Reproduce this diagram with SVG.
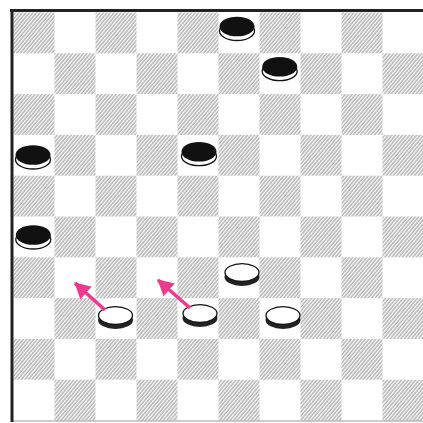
<svg xmlns="http://www.w3.org/2000/svg" width="423" height="423" viewBox="0 0 423 423">
<defs>
<pattern id="hatch" patternUnits="userSpaceOnUse" width="2.7" height="10" patternTransform="rotate(40)">
<line x1="1" y1="-1" x2="1" y2="11" stroke="#8f8f8f" stroke-width="1"/>
</pattern>
<marker id="ah" markerUnits="userSpaceOnUse" markerWidth="17" markerHeight="17" viewBox="0 0 16 16" refX="14" refY="8" orient="auto">
<path d="M0,0 L15,8 L0,16 Z" fill="#ec3a8e"/>
</marker>
</defs>
<style>
.dk{fill:url(#hatch)}
.btop{fill:#111}
.brim{fill:#fff;stroke:#111;stroke-width:1.3}
.wtop{fill:#fff;stroke:#111;stroke-width:1.3}
.wside{fill:#222}
.arrow{stroke:#ec3a8e;stroke-width:3.5;fill:none;marker-end:url(#ah)}
</style>
<rect width="423" height="423" fill="#fff"/>
<g id="board">
<g id="dark-squares">
<rect class="dk" x="13.5" y="12.5" width="41" height="40.8"/>
<rect class="dk" x="95.5" y="12.5" width="41" height="40.8"/>
<rect class="dk" x="177.5" y="12.5" width="41" height="40.8"/>
<rect class="dk" x="259.5" y="12.5" width="41" height="40.8"/>
<rect class="dk" x="341.5" y="12.5" width="41" height="40.8"/>
<rect class="dk" x="54.5" y="53.3" width="41" height="40.8"/>
<rect class="dk" x="136.5" y="53.3" width="41" height="40.8"/>
<rect class="dk" x="218.5" y="53.3" width="41" height="40.8"/>
<rect class="dk" x="300.5" y="53.3" width="41" height="40.8"/>
<rect class="dk" x="382.5" y="53.3" width="41" height="40.8"/>
<rect class="dk" x="13.5" y="94.1" width="41" height="40.8"/>
<rect class="dk" x="95.5" y="94.1" width="41" height="40.8"/>
<rect class="dk" x="177.5" y="94.1" width="41" height="40.8"/>
<rect class="dk" x="259.5" y="94.1" width="41" height="40.8"/>
<rect class="dk" x="341.5" y="94.1" width="41" height="40.8"/>
<rect class="dk" x="54.5" y="134.9" width="41" height="40.8"/>
<rect class="dk" x="136.5" y="134.9" width="41" height="40.8"/>
<rect class="dk" x="218.5" y="134.9" width="41" height="40.8"/>
<rect class="dk" x="300.5" y="134.9" width="41" height="40.8"/>
<rect class="dk" x="382.5" y="134.9" width="41" height="40.8"/>
<rect class="dk" x="13.5" y="175.7" width="41" height="40.8"/>
<rect class="dk" x="95.5" y="175.7" width="41" height="40.8"/>
<rect class="dk" x="177.5" y="175.7" width="41" height="40.8"/>
<rect class="dk" x="259.5" y="175.7" width="41" height="40.8"/>
<rect class="dk" x="341.5" y="175.7" width="41" height="40.8"/>
<rect class="dk" x="54.5" y="216.5" width="41" height="40.8"/>
<rect class="dk" x="136.5" y="216.5" width="41" height="40.8"/>
<rect class="dk" x="218.5" y="216.5" width="41" height="40.8"/>
<rect class="dk" x="300.5" y="216.5" width="41" height="40.8"/>
<rect class="dk" x="382.5" y="216.5" width="41" height="40.8"/>
<rect class="dk" x="13.5" y="257.3" width="41" height="40.8"/>
<rect class="dk" x="95.5" y="257.3" width="41" height="40.8"/>
<rect class="dk" x="177.5" y="257.3" width="41" height="40.8"/>
<rect class="dk" x="259.5" y="257.3" width="41" height="40.8"/>
<rect class="dk" x="341.5" y="257.3" width="41" height="40.8"/>
<rect class="dk" x="54.5" y="298.1" width="41" height="40.8"/>
<rect class="dk" x="136.5" y="298.1" width="41" height="40.8"/>
<rect class="dk" x="218.5" y="298.1" width="41" height="40.8"/>
<rect class="dk" x="300.5" y="298.1" width="41" height="40.8"/>
<rect class="dk" x="382.5" y="298.1" width="41" height="40.8"/>
<rect class="dk" x="13.5" y="338.9" width="41" height="40.8"/>
<rect class="dk" x="95.5" y="338.9" width="41" height="40.8"/>
<rect class="dk" x="177.5" y="338.9" width="41" height="40.8"/>
<rect class="dk" x="259.5" y="338.9" width="41" height="40.8"/>
<rect class="dk" x="341.5" y="338.9" width="41" height="40.8"/>
<rect class="dk" x="54.5" y="379.7" width="41" height="40.8"/>
<rect class="dk" x="136.5" y="379.7" width="41" height="40.8"/>
<rect class="dk" x="218.5" y="379.7" width="41" height="40.8"/>
<rect class="dk" x="300.5" y="379.7" width="41" height="40.8"/>
<rect class="dk" x="382.5" y="379.7" width="41" height="40.8"/>
</g>
<line x1="11" y1="421" x2="423" y2="421" stroke="#999" stroke-width="1"/>
<line x1="10" y1="10.5" x2="423" y2="10.5" stroke="#222" stroke-width="3"/>
<line x1="12" y1="9" x2="12" y2="422" stroke="#222" stroke-width="3"/>
</g>
<g id="b1"><ellipse class="brim" cx="237" cy="31" rx="17.5" ry="9.5"/><ellipse class="btop" cx="237" cy="26.5" rx="17.5" ry="9.8"/></g>
<g id="b2"><ellipse class="brim" cx="279.7" cy="71.2" rx="17.5" ry="9.5"/><ellipse class="btop" cx="279.7" cy="66.7" rx="17.5" ry="9.8"/></g>
<g id="b3"><ellipse class="brim" cx="33" cy="159.5" rx="17.5" ry="9.5"/><ellipse class="btop" cx="33" cy="155" rx="17.5" ry="9.8"/></g>
<g id="b4"><ellipse class="brim" cx="199" cy="156.2" rx="17.5" ry="9.5"/><ellipse class="btop" cx="199" cy="151.7" rx="17.5" ry="9.8"/></g>
<g id="b5"><ellipse class="brim" cx="33.3" cy="239.5" rx="17.5" ry="9.5"/><ellipse class="btop" cx="33.3" cy="235" rx="17.5" ry="9.8"/></g>
<g id="w1"><ellipse class="wside" cx="242" cy="277" rx="17.5" ry="9"/><ellipse class="wtop" cx="242" cy="272.5" rx="17" ry="8.8"/></g>
<g id="w2"><ellipse class="wside" cx="283" cy="320" rx="17.5" ry="9"/><ellipse class="wtop" cx="283" cy="315.5" rx="17" ry="8.8"/></g>
<g id="w3"><ellipse class="wside" cx="115.5" cy="320" rx="17.5" ry="9"/><ellipse class="wtop" cx="115.5" cy="315.5" rx="17" ry="8.8"/></g>
<g id="w4"><ellipse class="wside" cx="200" cy="318" rx="17.5" ry="9"/><ellipse class="wtop" cx="200" cy="313.5" rx="17" ry="8.8"/></g>
<g id="connectors">
<line class="arrow" x1="105" y1="310" x2="75" y2="283"/>
<line class="arrow" x1="190" y1="308" x2="158" y2="280"/>
</g>
</svg>
